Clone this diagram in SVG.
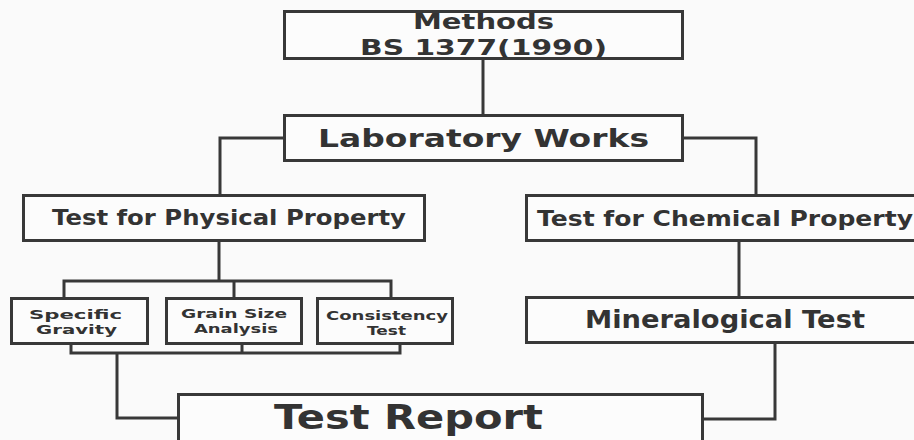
<svg xmlns="http://www.w3.org/2000/svg" width="914" height="440" viewBox="0 0 914 440">
<style>
.box{fill:#fcfcfc;stroke:#383838;stroke-width:3}
.ln{fill:none;stroke:#383838;stroke-width:3}
text{font-family:"DejaVu Sans","Liberation Sans",sans-serif;font-weight:bold;fill:#333333}
.sm{font-size:12px}
</style>
<rect width="914" height="440" fill="#fafafa"/>
<g id="connectors">
<path class="ln" d="M483,59 V114"/>
<path class="ln" d="M283,138 H220 V194"/>
<path class="ln" d="M684,138 H756 V194"/>
<path class="ln" d="M219,242 V281"/>
<path class="ln" d="M64,297 V281 H391 V297"/>
<path class="ln" d="M234,281 V297"/>
<path class="ln" d="M71,345 V353 H400 V345"/>
<path class="ln" d="M242,345 V353"/>
<path class="ln" d="M117,353 V418 H177"/>
<path class="ln" d="M739,242 V296"/>
<path class="ln" d="M775,344 V419 H704"/>
</g>
<g id="methods">
<rect class="box" x="284.5" y="11.5" width="398" height="47"/>
<text x="413" y="29" font-size="20.5" textLength="141" lengthAdjust="spacingAndGlyphs">Methods</text>
<text x="360" y="55" font-size="21.5" textLength="247" lengthAdjust="spacingAndGlyphs">BS 1377(1990)</text>
</g>
<g id="lab">
<rect class="box" x="284.5" y="115.5" width="398" height="45"/>
<text x="318" y="147" font-size="25" textLength="331" lengthAdjust="spacingAndGlyphs">Laboratory Works</text>
</g>
<g id="physical">
<rect class="box" x="23.5" y="195.5" width="401" height="45"/>
<text x="52" y="225" font-size="21.5" textLength="354" lengthAdjust="spacingAndGlyphs">Test for Physical Property</text>
</g>
<g id="chemical">
<rect class="box" x="526.5" y="195.5" width="400" height="45"/>
<text x="537" y="226" font-size="21.5" textLength="376" lengthAdjust="spacingAndGlyphs">Test for Chemical Property</text>
</g>
<g id="specific">
<rect class="box" x="11.5" y="298.5" width="136" height="45"/>
<text class="sm" x="29" y="319" textLength="93" lengthAdjust="spacingAndGlyphs">Specific</text>
<text class="sm" x="36" y="334" textLength="81" lengthAdjust="spacingAndGlyphs">Gravity</text>
</g>
<g id="grain">
<rect class="box" x="166.5" y="298.5" width="135" height="45"/>
<text class="sm" x="181" y="318" textLength="106" lengthAdjust="spacingAndGlyphs">Grain Size</text>
<text class="sm" x="194" y="333" textLength="84" lengthAdjust="spacingAndGlyphs">Analysis</text>
</g>
<g id="consistency">
<rect class="box" x="317.5" y="298.5" width="135" height="45"/>
<text class="sm" x="326" y="320" textLength="122" lengthAdjust="spacingAndGlyphs">Consistency</text>
<text class="sm" x="367" y="335" textLength="39" lengthAdjust="spacingAndGlyphs">Test</text>
</g>
<g id="mineralogical">
<rect class="box" x="526.5" y="297.5" width="400" height="45"/>
<text x="585" y="328" font-size="25" textLength="280" lengthAdjust="spacingAndGlyphs">Mineralogical Test</text>
</g>
<g id="report">
<rect class="box" x="178.5" y="394.5" width="524" height="60"/>
<text x="274" y="429" font-size="33" textLength="269" lengthAdjust="spacingAndGlyphs">Test Report</text>
</g>
</svg>
